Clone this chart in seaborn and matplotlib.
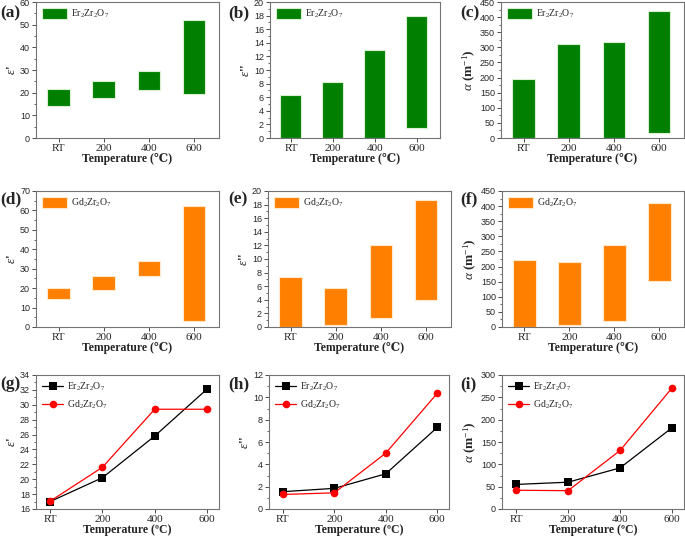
import numpy as np
import pandas as pd
import seaborn as sns
import matplotlib
matplotlib.use('Agg')
import matplotlib.pyplot as plt
from matplotlib.ticker import MultipleLocator, AutoMinorLocator

# 数据
temps = ['RT', '200', '400', '600']

# (a)-(c) Er2Zr2O7 浮动柱: 下限 / 上限
er_eps1_lo = [14.0, 17.5, 21.0, 19.5]
er_eps1_hi = [21.5, 25.0, 29.6, 52.0]
er_eps2_lo = [0.0, 0.0, 0.0, 1.4]
er_eps2_hi = [6.3, 8.3, 12.9, 18.0]
er_alpha_lo = [0, 0, 0, 18]
er_alpha_hi = [195, 310, 317, 420]

# (d)-(f) Gd2Zr2O7
gd_eps1_lo = [14.5, 19.0, 26.5, 3.0]
gd_eps1_hi = [20.0, 26.0, 34.0, 62.5]
gd_eps2_lo = [0.0, 0.3, 1.3, 4.0]
gd_eps2_hi = [7.3, 5.8, 12.1, 18.7]
gd_alpha_lo = [0, 5, 20, 153]
gd_alpha_hi = [222, 214, 271, 410]

# (g)-(i) 平均值
er_eps1 = [17.0, 20.2, 25.8, 32.1]
gd_eps1 = [17.05, 21.6, 29.4, 29.4]
er_eps2 = [1.55, 1.85, 3.15, 7.3]
gd_eps2 = [1.3, 1.45, 5.0, 10.35]
er_alpha = [55, 60, 92, 182]
gd_alpha = [42, 41, 131, 271]

ER = r'Er$_2$Zr$_2$O$_7$'
GD = r'Gd$_2$Zr$_2$O$_7$'

sns.set_theme(style='ticks')
plt.rcParams['font.family'] = ['Liberation Serif', 'DejaVu Serif']
plt.rcParams['mathtext.fontset'] = 'custom'
plt.rcParams['mathtext.rm'] = 'Liberation Serif'
plt.rcParams['mathtext.it'] = 'Liberation Serif:italic'
plt.rcParams['mathtext.bf'] = 'Liberation Serif:bold'
plt.rcParams['axes.edgecolor'] = '0.45'
plt.rcParams['axes.linewidth'] = 0.8

W, H = 685, 536
fig = plt.figure(figsize=(W / 100, H / 100), dpi=100)


def px(l, t, r, b):
    return [l / W, 1 - b / H, (r - l) / W, (b - t) / H]


def style_axis(ax, ylim, step, ylabel, xlabel, tag, tagx, tagy):
    ax.set_ylim(*ylim)
    ax.yaxis.set_major_locator(MultipleLocator(step))
    ax.yaxis.set_minor_locator(AutoMinorLocator(2))
    ax.tick_params(axis='both', which='major', length=2.8, width=0.7, color='0.3', pad=1.5)
    ax.tick_params(axis='y', which='minor', length=1.6, width=0.6, color='0.3')
    for lb in ax.get_yticklabels():
        lb.set_fontfamily('Liberation Sans')
        lb.set_fontsize(6.5)
    for lb in ax.get_xticklabels():
        lb.set_fontfamily('Liberation Serif')
        lb.set_fontsize(8)
    ax.set_ylabel(ylabel, fontsize=9.5, fontweight='bold', labelpad=1.5)
    ax.set_xlabel(xlabel, fontsize=8.5, fontweight='bold', labelpad=0,
                  family=['Liberation Serif', 'DejaVu Serif'])
    fig.text(tagx / W, 1 - tagy / H, tag, fontsize=12.5, fontweight='bold',
             ha='left', va='center')


def bar_panel(rect, lo, hi, color, edge, label, ylabel, ylim, step, tag, tagx, tagy):
    ax = fig.add_axes(rect)
    df = pd.DataFrame({'T': temps, 'h': np.array(hi) - np.array(lo)})
    sns.barplot(data=df, x='T', y='h', bottom=np.array(lo, dtype=float), color=color,
                edgecolor=edge, linewidth=0.8, width=0.5, saturation=1,
                ax=ax, label=label)
    ax.set_xlim(-0.5, 3.55)
    ax.legend(loc='upper left', frameon=False, fontsize=7, handlelength=2.6,
              handleheight=1.3, borderaxespad=0.2, handletextpad=0.4)
    style_axis(ax, ylim, step, ylabel, 'Temperature (\u2103)', tag, tagx, tagy)
    return ax


def line_panel(rect, er, gd, ylabel, ylim, step, tag, tagx, tagy):
    ax = fig.add_axes(rect)
    pos = np.arange(len(temps))
    df = pd.DataFrame({'pos': np.concatenate([pos, pos]),
                       'v': er + gd,
                       's': [ER] * len(er) + [GD] * len(gd)})
    sns.lineplot(data=df, x='pos', y='v', hue='s', style='s',
                 palette=['black', 'red'], markers=['s', 'o'], dashes=False,
                 markersize=5.5, markeredgewidth=0, linewidth=0.9, ax=ax)
    ax.set_xticks(pos)
    ax.set_xticklabels(temps)
    ax.set_xlim(-0.27, 3.23)
    ax.legend(loc='upper left', frameon=False, fontsize=7, handlelength=2.2,
              borderaxespad=0.2, handletextpad=0.4, labelspacing=0.5)
    style_axis(ax, ylim, step, ylabel, 'Temperature (\u00baC)', tag, tagx, tagy)
    return ax


green, green_e = '#007f00', '#d8f0d0'
orange, orange_e = '#ff8000', '#ffe8cc'
eps1 = r"$\mathit{\varepsilon}$'"
eps2 = r"$\mathit{\varepsilon}$''"
alpha = r'$\mathit{\alpha}$ (m$^{-1}$)'

bar_panel(px(36, 2, 219, 138), er_eps1_lo, er_eps1_hi, green, green_e, ER, eps1, (0, 60), 10, '(a)', 0, 13)
bar_panel(px(270, 2, 440, 138), er_eps2_lo, er_eps2_hi, green, green_e, ER, eps2, (0, 20), 2, '(b)', 228, 13)
bar_panel(px(501, 2, 684, 138), er_alpha_lo, er_alpha_hi, green, green_e, ER, alpha, (0, 450), 50, '(c)', 460, 13)

bar_panel(px(36, 191, 219, 327), gd_eps1_lo, gd_eps1_hi, orange, orange_e, GD, eps1, (0, 70), 10, '(d)', 0, 199)
bar_panel(px(268, 191, 451, 327), gd_eps2_lo, gd_eps2_hi, orange, orange_e, GD, eps2, (0, 20), 2, '(e)', 228, 199)
bar_panel(px(502, 191, 684, 327), gd_alpha_lo, gd_alpha_hi, orange, orange_e, GD, alpha, (0, 450), 50, '(f)', 460, 199)

line_panel(px(36, 375, 219, 509), er_eps1, gd_eps1, eps1, (16, 34), 2, '(g)', 0, 384)
line_panel(px(269, 375, 449, 509), er_eps2, gd_eps2, eps2, (0, 12), 2, '(h)', 228, 384)
line_panel(px(502, 375, 684, 509), er_alpha, gd_alpha, alpha, (0, 300), 50, '(i)', 460, 384)

fig.savefig('out.png', dpi=100)
